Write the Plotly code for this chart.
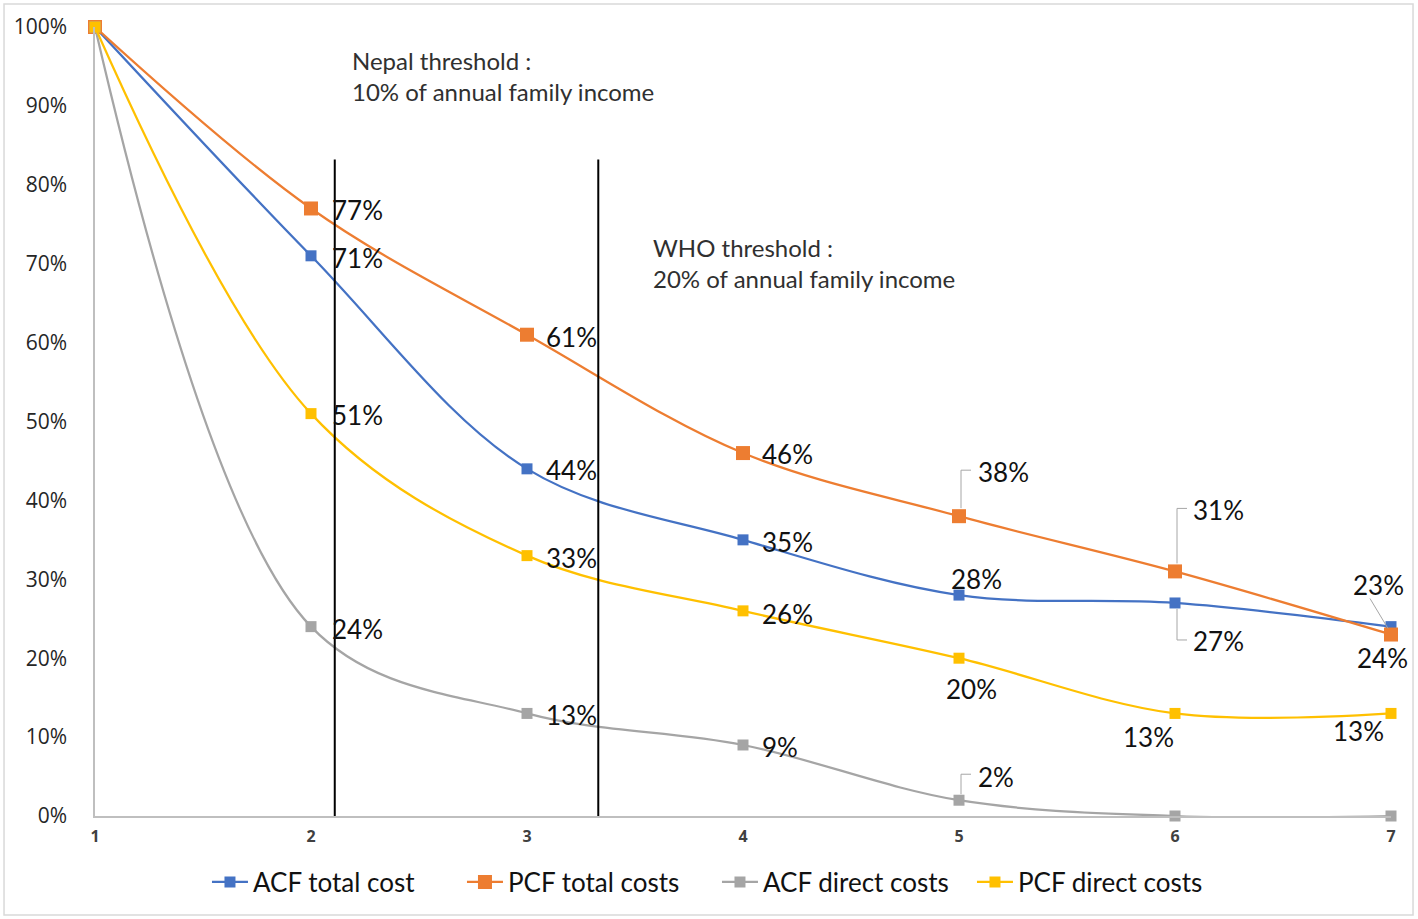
import plotly.graph_objects as go

# ---- data ----
categories = [1, 2, 3, 4, 5, 6, 7]
acf_total = [100, 71, 44, 35, 28, 27, 24]
pcf_total = [100, 77, 61, 46, 38, 31, 23]
acf_direct = [100, 24, 13, 9, 2, 0, 0]
pcf_direct = [100, 51, 33, 26, 20, 13, 13]
y_ticks = [0, 10, 20, 30, 40, 50, 60, 70, 80, 90, 100]
threshold_x = [2.11, 3.33]
threshold_text = [["Nepal threshold :", "10% of annual family income"],
                  ["WHO threshold :", "20% of annual family income"]]

series = [
    ("ACF total cost", acf_total, "#4472C4", 11),
    ("PCF total costs", pcf_total, "#ED7D31", 14),
    ("ACF direct costs", acf_direct, "#A5A5A5", 11),
    ("PCF direct costs", pcf_direct, "#FFC000", 11),
]

# label placement (xanchor, xshift, yshift) per point index
label_pos = {
    "ACF total cost": [None, ("left", 19, -2), ("left", 17, -1), ("left", 17, -2),
                       ("center", 17, 16), ("left", 16, -38), ("center", -9, -31)],
    "PCF total costs": [None, ("left", 19, -2), ("left", 17, -2), ("left", 17, -1),
                        ("left", 17, 44), ("left", 16, 61), ("center", -13, 50)],
    "ACF direct costs": [None, ("left", 19, -2), ("left", 17, -2), ("left", 17, -2),
                         ("left", 17, 23), None, None],
    "PCF direct costs": [None, ("left", 19, -1), ("left", 17, -2), ("left", 17, -3),
                         ("center", 12, -31), ("center", -27, -24), ("center", -33, -18)],
}

# leader lines: (series, index, pixel path relative to point)
leaders = [
    ("PCF total costs", 4, "M 2,8 L 2,46 L 12,46"),
    ("PCF total costs", 5, "M 2,8 L 2,63 L 12,63"),
    ("ACF total cost", 5, "M 2,-6 L 2,-37 L 12,-37"),
    ("ACF direct costs", 4, "M 2,6 L 2,26 L 12,26"),
    ("PCF total costs", 6, "M -21,36 L -3,6"),
]

fig = go.Figure()
for name, vals, color, msize in series:
    fig.add_trace(go.Scatter(
        x=categories, y=[v / 100 for v in vals], name=name,
        mode="lines+markers",
        line=dict(color=color, width=2.25, shape="spline", smoothing=1.0),
        marker=dict(symbol="square", size=msize, color=color),
        cliponaxis=False,
    ))

annotations = []
for name, vals, color, msize in series:
    for i, v in enumerate(vals):
        pos = label_pos[name][i]
        if pos is None:
            continue
        xa, xs, ys = pos
        annotations.append(dict(
            x=categories[i], y=v / 100, xref="x", yref="y",
            text=f"{v}%", showarrow=False, xanchor=xa, yanchor="middle",
            xshift=xs, yshift=ys,
            font=dict(family="Lato", size=26, color="#111111"),
        ))

# threshold text
text_px = [(0.1968, [0.958, 0.918]), (0.429, [0.7205, 0.681])]
for (px, pys), lines in zip(text_px, threshold_text):
    for py, line in zip(pys, lines):
        annotations.append(dict(
            x=px, y=py, xref="paper", yref="paper", text=line, showarrow=False,
            xanchor="left", yanchor="middle",
            font=dict(family="Lato", size=24, color="#303030"),
        ))

shapes = []
for tx in threshold_x:
    shapes.append(dict(type="line", xref="x", yref="y", x0=tx, x1=tx,
                       y0=-0.022, y1=0.832, line=dict(color="black", width=2)))

lookup = {name: vals for name, vals, _, _ in series}
for name, i, path in leaders:
    shapes.append(dict(type="path", xref="x", yref="y",
                       xsizemode="pixel", ysizemode="pixel",
                       xanchor=categories[i], yanchor=lookup[name][i] / 100,
                       path=path, line=dict(color="#A6A6A6", width=1)))

# outer chart border
shapes.append(dict(type="rect", xref="paper", yref="paper",
                   x0=-0.0702, x1=1.0170, y0=-0.1255, y1=1.029,
                   line=dict(color="#D9D9D9", width=1.5), layer="below"))

fig.update_layout(
    width=1418, height=919,
    margin=dict(l=95, r=27, t=27, b=103),
    plot_bgcolor="white", paper_bgcolor="white",
    showlegend=True,
    legend=dict(orientation="h", x=0.0864, xanchor="left", y=-0.0837, yanchor="middle",
                font=dict(family="Lato", size=26, color="#111111"),
                itemwidth=36, tracegroupgap=0, entrywidth=204, entrywidthmode="pixels"),
    annotations=annotations,
    shapes=shapes,
    xaxis=dict(range=[1, 7], tickmode="array", tickvals=categories,
               ticktext=[f"<b>{c}</b>" for c in categories], showgrid=False, zeroline=False,
               showline=True, linecolor="#BFBFBF", linewidth=1.5, ticks="",
               tickfont=dict(family="Noto Sans", size=16, color="#404040"),
               ticklabelstandoff=5),
    yaxis=dict(range=[0, 1], tickmode="array", tickvals=[t / 100 for t in y_ticks],
               ticktext=[f"{t}%" for t in y_ticks], showgrid=False, zeroline=False,
               showline=True, linecolor="#BFBFBF", linewidth=1.5, ticks="",
               tickfont=dict(family="Open Sans", size=21, color="#262626"),
               ticklabelstandoff=22),
)

fig.write_html("out.html", config={"displayModeBar": False},
               post_script="document.body.style.margin='0';document.body.style.overflow='hidden';")
